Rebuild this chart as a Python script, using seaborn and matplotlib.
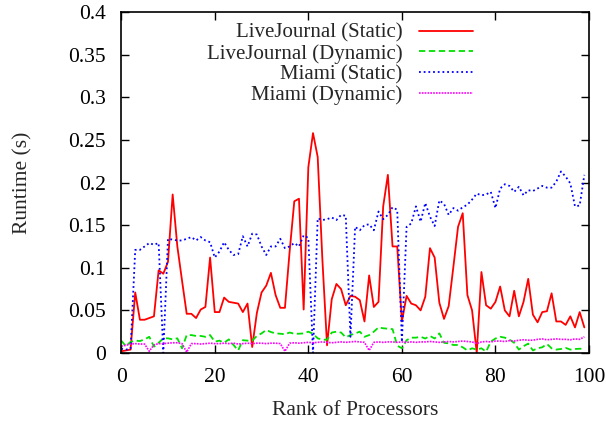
import numpy as np
import pandas as pd
import matplotlib
matplotlib.use("Agg")
import matplotlib.pyplot as plt
import seaborn as sns

ranks = list(range(100))

lj_static = [0.002, 0.003, 0.004, 0.071, 0.039, 0.039, 0.041, 0.043, 0.097, 0.093,
             0.107, 0.186, 0.125, 0.085, 0.046, 0.046, 0.041, 0.051, 0.054, 0.112,
             0.048, 0.048, 0.065, 0.060, 0.059, 0.058, 0.048, 0.058, 0.007, 0.047,
             0.071, 0.079, 0.094, 0.068, 0.053, 0.053, 0.119, 0.178, 0.181, 0.051,
             0.218, 0.258, 0.230, 0.110, 0.009, 0.063, 0.081, 0.075, 0.056, 0.067,
             0.066, 0.062, 0.037, 0.091, 0.054, 0.060, 0.172, 0.209, 0.125, 0.125,
             0.037, 0.067, 0.058, 0.056, 0.050, 0.066, 0.123, 0.112, 0.059, 0.040,
             0.055, 0.101, 0.148, 0.164, 0.068, 0.050, 0.000, 0.095, 0.056, 0.052,
             0.060, 0.078, 0.050, 0.043, 0.073, 0.043, 0.060, 0.087, 0.045, 0.036,
             0.048, 0.049, 0.070, 0.037, 0.037, 0.033, 0.043, 0.030, 0.048, 0.030]

lj_dynamic = [0.0145, 0.008, 0.013, 0.0145, 0.014, 0.016, 0.019, 0.0074, 0.012, 0.0172,
              0.0172, 0.016, 0.0172, 0.0055, 0.021, 0.021, 0.020, 0.020, 0.019, 0.021,
              0.0133, 0.0145, 0.012, 0.016, 0.0094, 0.003, 0.015, 0.0145, 0.0145, 0.020,
              0.023, 0.027, 0.0246, 0.023, 0.0226, 0.022, 0.024, 0.0226, 0.0226, 0.023,
              0.025, 0.0226, 0.0172, 0.0156, 0.0156, 0.024, 0.025, 0.024, 0.0184, 0.021,
              0.023, 0.025, 0.019, 0.021, 0.025, 0.030, 0.029, 0.0285, 0.028, 0.0086,
              0.0055, 0.015, 0.018, 0.018, 0.019, 0.017, 0.020, 0.017, 0.023, 0.012,
              0.0113, 0.0094, 0.0094, 0.0067, 0.003, 0.0055, 0.004, 0.0055, 0.0016, 0.0133,
              0.017, 0.019, 0.018, 0.0156, 0.012, 0.004, 0.008, 0.011, 0.003, 0.0055,
              0.0067, 0.0106, 0.0055, 0.004, 0.0047, 0.006, 0.004, 0.0047, 0.005, 0.0047]

miami_static = [0.005, 0.004, 0.005, 0.121, 0.121, 0.125, 0.129, 0.127, 0.129, 0.000,
                0.134, 0.133, 0.132, 0.132, 0.134, 0.136, 0.132, 0.136, 0.132, 0.130,
                0.112, 0.119, 0.130, 0.121, 0.115, 0.116, 0.137, 0.125, 0.140, 0.139,
                0.125, 0.115, 0.125, 0.125, 0.134, 0.123, 0.125, 0.129, 0.125, 0.138,
                0.135, 0.000, 0.158, 0.156, 0.157, 0.159, 0.156, 0.162, 0.161, 0.019,
                0.148, 0.144, 0.150, 0.151, 0.144, 0.166, 0.157, 0.162, 0.171, 0.168,
                0.013, 0.148, 0.152, 0.172, 0.154, 0.176, 0.160, 0.149, 0.179, 0.175,
                0.162, 0.170, 0.167, 0.171, 0.174, 0.180, 0.187, 0.185, 0.186, 0.189,
                0.170, 0.193, 0.198, 0.196, 0.189, 0.195, 0.185, 0.191, 0.190, 0.193,
                0.196, 0.194, 0.194, 0.201, 0.213, 0.207, 0.199, 0.172, 0.173, 0.209]

miami_dynamic = [0.008, 0.009, 0.0105, 0.011, 0.0105, 0.0105, 0.002, 0.0095, 0.011, 0.011,
                 0.0115, 0.012, 0.012, 0.011, 0.001, 0.011, 0.011, 0.0105, 0.011, 0.0115,
                 0.011, 0.011, 0.0115, 0.011, 0.0115, 0.0105, 0.011, 0.0115, 0.011, 0.0115,
                 0.0115, 0.011, 0.0115, 0.0115, 0.011, 0.002, 0.0115, 0.012, 0.0115, 0.012,
                 0.0125, 0.012, 0.0125, 0.013, 0.0125, 0.012, 0.0125, 0.013, 0.0125, 0.013,
                 0.0135, 0.013, 0.0125, 0.003, 0.0125, 0.013, 0.0125, 0.013, 0.013, 0.0125,
                 0.013, 0.0125, 0.013, 0.0125, 0.013, 0.013, 0.0135, 0.013, 0.0125, 0.013,
                 0.0135, 0.013, 0.0135, 0.014, 0.0135, 0.013, 0.011, 0.013, 0.0135, 0.013,
                 0.014, 0.014, 0.0135, 0.0145, 0.014, 0.015, 0.0155, 0.015, 0.015, 0.016,
                 0.0165, 0.0155, 0.016, 0.0165, 0.016, 0.016, 0.0155, 0.0165, 0.016, 0.019]

series_names = ["LiveJournal (Static)", "LiveJournal (Dynamic)", "Miami (Static)", "Miami (Dynamic)"]
series_values = [lj_static, lj_dynamic, miami_static, miami_dynamic]
colors = ["#ff0000", "#00e000", "#0000ff", "#ff00ff"]
dashes = ["-", (0, (3.5, 2.0)), (0, (1.0, 1.6)), (0, (1.0, 0.7))]
widths = [1.3, 1.3, 1.3, 1.2]

x_ticks = [0, 20, 40, 60, 80, 100]
y_ticks = [0, 0.05, 0.1, 0.15, 0.2, 0.25, 0.3, 0.35, 0.4]
y_tick_labels = ["0", "0.05", "0.1", "0.15", "0.2", "0.25", "0.3", "0.35", "0.4"]

FS = 15.5

sns.set_style("ticks")
plt.rcParams["font.family"] = ["Liberation Serif", "DejaVu Serif"]
plt.rcParams["font.size"] = FS

fig = plt.figure(figsize=(6.06, 4.23), dpi=100)
ax = fig.add_axes([0.2, 0.1655, 0.772, 0.806])

for name, vals, c, d, w in zip(series_names, series_values, colors, dashes, widths):
    df = pd.DataFrame({"rank": ranks, "runtime": vals})
    sns.lineplot(data=df, x="rank", y="runtime", ax=ax, color=c, linestyle=d,
                 linewidth=w, label=name)

ax.set_xlim(0, 100)
ax.set_ylim(0, 0.4)
ax.set_xticks(x_ticks)
ax.set_yticks(y_ticks)
ax.set_yticklabels(y_tick_labels)
ax.set_xlabel("Rank of Processors", fontsize=FS, labelpad=10)
ax.set_ylabel("Runtime (s)", fontsize=FS, labelpad=26)
ax.tick_params(direction="in", length=6, width=1, top=True, right=True,
               labelsize=FS, colors="black")
ax.tick_params(axis="x", pad=11)
ax.tick_params(axis="y", pad=11)
for sp in ax.spines.values():
    sp.set_visible(True)
    sp.set_linewidth(1.2)
    sp.set_color("black")

leg = ax.legend(loc="upper right", bbox_to_anchor=(0.753, 0.967), frameon=False,
                markerfirst=False, handlelength=2.6, handletextpad=0.8,
                labelspacing=0.05, borderaxespad=0, borderpad=0, fontsize=15)

fig.savefig("out.png", dpi=100)
